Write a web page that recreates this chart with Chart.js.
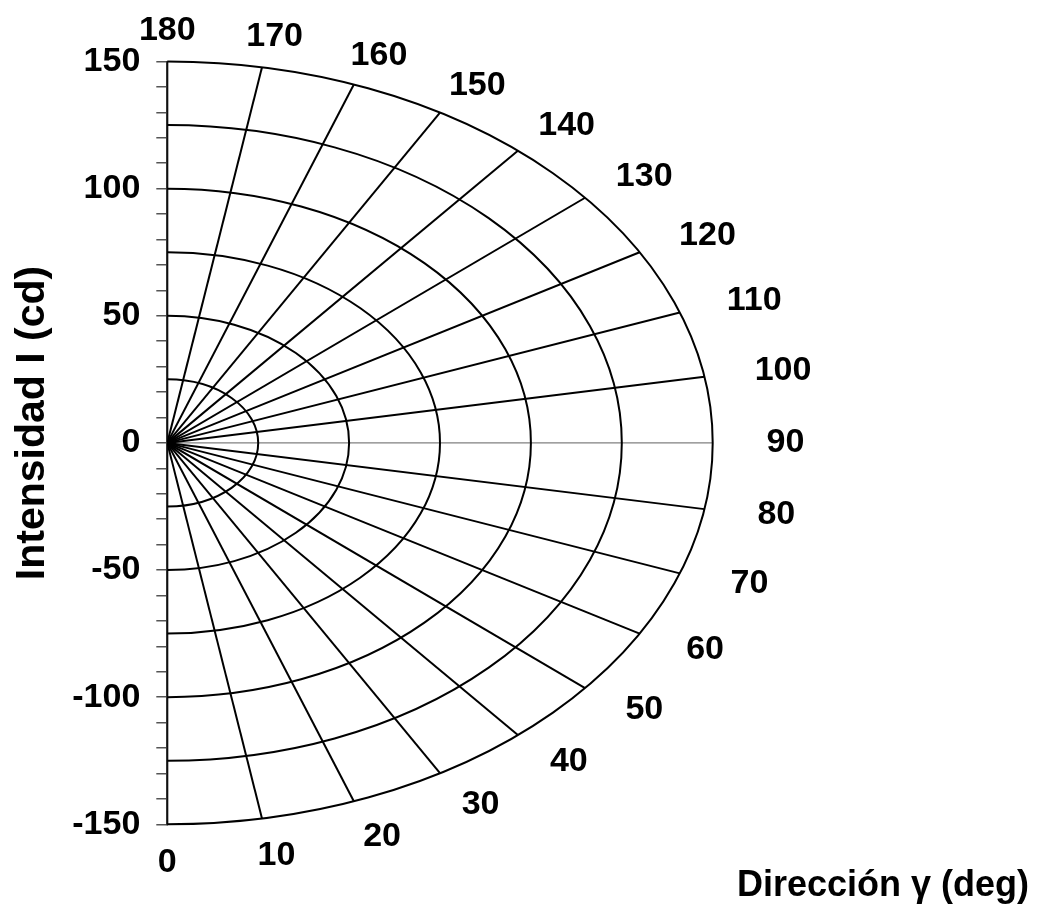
<!DOCTYPE html>
<html>
<head>
<meta charset="utf-8">
<script src="https://cdn.jsdelivr.net/npm/chart.js@4.4.1/dist/chart.umd.min.js"></script>
<style>
  html, body { margin: 0; padding: 0; background: #ffffff; }
  #wrap { width: 1045px; height: 906px; }
</style>
</head>
<body>
<div id="wrap"><canvas id="c" width="1045" height="906"></canvas></div>
<script>
// ---- data ----
const radii = [25, 50, 75, 100, 125, 150];
const angles = [0, 10, 20, 30, 40, 50, 60, 70, 80, 90, 100, 110, 120, 130, 140, 150, 160, 170, 180];
const angleLabels = ['0', '10', '20', '30', '40', '50', '60', '70', '80', '90', '100', '110', '120', '130', '140', '150', '160', '170', '180'];
const yTickLabels = [-150, -100, -50, 0, 50, 100, 150];
const yTitle = 'Intensidad I (cd)';
const xTitle = 'Dirección γ (deg)';

const FONT = '"Liberation Sans", Arial, Helvetica, sans-serif';
const rMax = Math.max(...radii);

const rad = d => d * Math.PI / 180;

// spokes: one line dataset per direction, from the origin to the outer radius
const datasets = angles.map(a => {
  const isAxis = a === 90;
  return {
    data: [
      { x: 0, y: 0 },
      { x: rMax * Math.sin(rad(a)), y: -rMax * Math.cos(rad(a)) }
    ],
    showLine: true,
    borderColor: isAxis ? '#808080' : '#000000',
    borderWidth: isAxis ? 1.2 : 2,
    pointRadius: 0,
    fill: false,
    order: isAxis ? 2 : 1
  };
});

// radial distance (data units) at which a direction label is centred
function labelRadius(a) {
  const s2 = Math.sin(rad(a)) ** 2;
  return a > 90 ? rMax * 1.08 + 10 * s2 : rMax * 1.1 + 5 * s2;
}
// labels sit slightly rotated toward the horizontal direction
function labelAngle(a) {
  return a + 1.4 * Math.sin(rad(2 * a));
}

const polarPlugin = {
  id: 'polarGrid',
  afterDatasetsDraw(chart) {
    const { ctx } = chart;
    const xs = chart.scales.x, ys = chart.scales.y;
    const cx = xs.getPixelForValue(0), cy = ys.getPixelForValue(0);
    ctx.save();
    // arcs
    ctx.strokeStyle = '#000';
    ctx.lineWidth = 2;
    radii.forEach(r => {
      const rx = xs.getPixelForValue(r) - cx;
      const ry = cy - ys.getPixelForValue(r);
      ctx.beginPath();
      ctx.ellipse(cx, cy, rx, ry, 0, -Math.PI / 2, Math.PI / 2);
      ctx.stroke();
    });
    // angle labels, placed just outside the outer arc along each direction
    ctx.fillStyle = '#000';
    ctx.font = 'bold 34px ' + FONT;
    ctx.textAlign = 'center';
    ctx.textBaseline = 'middle';
    angles.forEach((a, i) => {
      const lr = labelRadius(a);
      const la = rad(labelAngle(a));
      const px = xs.getPixelForValue(lr * Math.sin(la));
      const py = ys.getPixelForValue(-lr * Math.cos(la));
      ctx.fillText(angleLabels[i], px, py);
    });
    // axis titles
    ctx.font = 'bold 36px ' + FONT;
    ctx.textAlign = 'center';
    ctx.textBaseline = 'middle';
    ctx.fillText(xTitle, 883, 886);
    ctx.translate(33, 423);
    ctx.rotate(-Math.PI / 2);
    ctx.font = 'bold 41px ' + FONT;
    ctx.fillText(yTitle, 0, 0);
    ctx.restore();
  }
};

new Chart(document.getElementById('c'), {
  type: 'scatter',
  data: { datasets },
  options: {
    responsive: false,
    animation: false,
    devicePixelRatio: 1,
    layout: { padding: { left: 0, top: 61.5, right: 332.3, bottom: 81.7 } },
    plugins: { legend: { display: false }, tooltip: { enabled: false } },
    scales: {
      x: { type: 'linear', min: 0, max: rMax, display: false },
      y: {
        type: 'linear',
        min: -rMax,
        max: rMax,
        afterFit(scale) { scale.width = 167.3; },
        border: { display: true, color: '#333', width: 2 },
        grid: { display: true, drawOnChartArea: false, drawTicks: true, tickLength: 11, color: '#555', lineWidth: 1.5 },
        ticks: {
          stepSize: 10,
          autoSkip: false,
          padding: 16,
          color: '#000',
          font: { family: FONT, size: 34, weight: 'bold' },
          callback: v => (yTickLabels.includes(v) ? String(v) : '')
        }
      }
    }
  },
  plugins: [polarPlugin]
});
</script>
</body>
</html>
